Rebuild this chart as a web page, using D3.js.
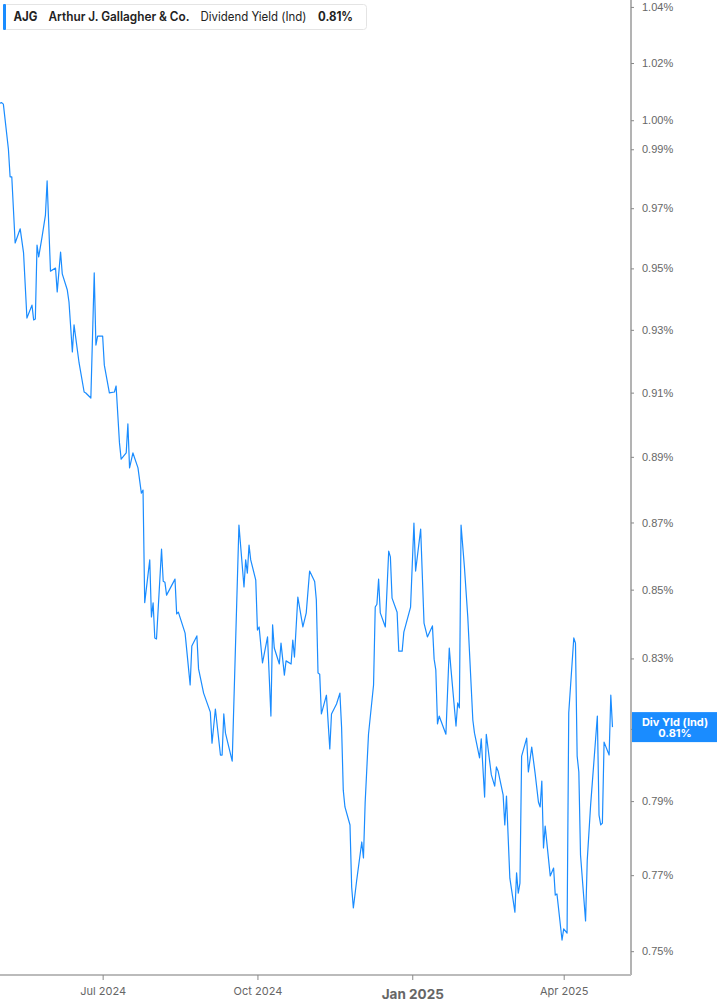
<!DOCTYPE html>
<html>
<head>
<meta charset="utf-8">
<script src="https://cdn.jsdelivr.net/npm/d3@7"></script>
<style>
  body { margin: 0; background: white; }
  .svg-wrap { width: 717px; height: 1005px; }
</style>
</head>
<body>
<div class="svg-wrap"></div>
<script>
// AJG dividend yield (Ind), in percent
const dates = [
  "2024-05-01","2024-05-02","2024-05-03","2024-05-06","2024-05-07","2024-05-08","2024-05-10","2024-05-13",
  "2024-05-15","2024-05-17","2024-05-20","2024-05-21","2024-05-22","2024-05-23","2024-05-24","2024-05-26",
  "2024-05-28","2024-05-29","2024-05-31","2024-06-03","2024-06-04","2024-06-06","2024-06-07","2024-06-10",
  "2024-06-11","2024-06-13","2024-06-14","2024-06-17","2024-06-20","2024-06-21","2024-06-24","2024-06-26",
  "2024-06-27","2024-06-28","2024-07-01","2024-07-02","2024-07-05","2024-07-08","2024-07-09","2024-07-11",
  "2024-07-12","2024-07-15","2024-07-16","2024-07-17","2024-07-19","2024-07-22","2024-07-24","2024-07-25",
  "2024-07-26","2024-07-29","2024-07-30","2024-07-31","2024-08-01","2024-08-02","2024-08-05","2024-08-06",
  "2024-08-07","2024-08-08","2024-08-13","2024-08-14","2024-08-15","2024-08-19","2024-08-22","2024-08-23",
  "2024-08-26","2024-08-27","2024-08-30","2024-09-03","2024-09-04","2024-09-06","2024-09-09","2024-09-10",
  "2024-09-11","2024-09-12","2024-09-16","2024-09-20","2024-09-23","2024-09-24","2024-09-25","2024-09-26",
  "2024-09-27","2024-09-30","2024-10-01","2024-10-02","2024-10-04","2024-10-07","2024-10-09","2024-10-10",
  "2024-10-11","2024-10-14","2024-10-15","2024-10-17","2024-10-18","2024-10-21","2024-10-22","2024-10-23",
  "2024-10-25","2024-10-28","2024-10-30","2024-11-01","2024-11-04","2024-11-05","2024-11-06","2024-11-07",
  "2024-11-08","2024-11-11","2024-11-13","2024-11-14","2024-11-17","2024-11-19","2024-11-20","2024-11-21",
  "2024-11-22","2024-11-25","2024-11-26","2024-11-27","2024-11-29","2024-12-02","2024-12-03","2024-12-04",
  "2024-12-06","2024-12-09","2024-12-10","2024-12-11","2024-12-12","2024-12-13","2024-12-16","2024-12-18",
  "2024-12-19","2024-12-20","2024-12-23","2024-12-24","2024-12-26","2024-12-27","2024-12-31","2025-01-02",
  "2025-01-03","2025-01-06","2025-01-08","2025-01-10","2025-01-13","2025-01-14","2025-01-15","2025-01-16",
  "2025-01-17","2025-01-21","2025-01-23","2025-01-24","2025-01-27","2025-01-28","2025-01-29","2025-01-30",
  "2025-02-01","2025-02-03","2025-02-06","2025-02-07","2025-02-10","2025-02-11","2025-02-13","2025-02-14",
  "2025-02-17","2025-02-19","2025-02-20","2025-02-21","2025-02-24","2025-02-25","2025-02-26","2025-02-28",
  "2025-03-03","2025-03-04","2025-03-05","2025-03-06","2025-03-07","2025-03-10","2025-03-11","2025-03-13",
  "2025-03-15","2025-03-17","2025-03-18","2025-03-19","2025-03-20","2025-03-21","2025-03-24","2025-03-26",
  "2025-03-27","2025-03-28","2025-03-31","2025-04-01","2025-04-03","2025-04-04","2025-04-07","2025-04-08",
  "2025-04-09","2025-04-10","2025-04-11","2025-04-14","2025-04-15","2025-04-17","2025-04-21","2025-04-22",
  "2025-04-23","2025-04-24","2025-04-25","2025-04-28","2025-04-29","2025-04-30"
];

const yields = [
  1.0059,1.0061,1.0056,0.9900,0.9806,0.9806,0.9584,0.9631,
  0.9551,0.9338,0.9380,0.9332,0.9335,0.9577,0.9538,0.9604,
  0.9677,0.9792,0.9491,0.9501,0.9423,0.9554,0.9482,0.9429,
  0.9390,0.9229,0.9316,0.9194,0.9102,0.9099,0.9083,0.9485,
  0.9251,0.9280,0.9280,0.9187,0.9099,0.9102,0.9121,0.8943,
  0.8893,0.8912,0.9002,0.8866,0.8912,0.8866,0.8789,0.8798,
  0.8462,0.8588,0.8420,0.8461,0.8359,0.8356,0.8620,0.8525,
  0.8522,0.8484,0.8531,0.8429,0.8434,0.8373,0.8224,0.8336,
  0.8365,0.8270,0.8201,0.8147,0.8060,0.8156,0.8027,0.8027,
  0.8142,0.8088,0.8010,0.8692,0.8508,0.8588,0.8549,0.8632,
  0.8588,0.8528,0.8382,0.8391,0.8287,0.8362,0.8136,0.8397,
  0.8330,0.8284,0.8344,0.8252,0.8293,0.8284,0.8353,0.8304,
  0.8478,0.8391,0.8432,0.8555,0.8524,0.8470,0.8258,0.8255,
  0.8142,0.8195,0.8044,0.8142,0.8170,0.8201,0.8105,0.7930,
  0.7884,0.7835,0.7668,0.7613,0.7687,0.7789,0.7746,0.7895,
  0.8085,0.8224,0.8449,0.8457,0.8531,0.8432,0.8391,0.8614,
  0.8597,0.8475,0.8434,0.8321,0.8321,0.8376,0.8449,0.8698,
  0.8555,0.8680,0.8402,0.8362,0.8394,0.8298,0.8267,0.8114,
  0.8136,0.8085,0.8330,0.8270,0.8108,0.8173,0.8159,0.8692,
  0.8567,0.8420,0.8125,0.8088,0.8019,0.8072,0.7911,0.8085,
  0.7972,0.7941,0.7994,0.7983,0.7917,0.7835,0.7914,0.7692,
  0.7602,0.7706,0.7652,0.7679,0.8024,0.8074,0.7980,0.8049,
  0.7977,0.7897,0.7884,0.7955,0.7773,0.7832,0.7698,0.7719,
  0.7647,0.7650,0.7529,0.7558,0.7547,0.8145,0.8359,0.8344,
  0.8024,0.7980,0.7754,0.7579,0.7740,0.7889,0.8136,0.7862,
  0.7835,0.7840,0.8063,0.8027,0.8195,0.8105
];

const yTicks = [0.75,0.77,0.79,0.81,0.83,0.85,0.87,0.89,0.91,0.93,0.95,0.97,0.99,1.00,1.02,1.04];
const xTicks = ["2024-07-01","2024-10-01","2025-01-01","2025-04-01"];
const xTickLabels = ["Jul 2024","Oct 2024","Jan 2025","Apr 2025"];

const legendParts = ["AJG","Arthur J. Gallagher & Co.","Dividend Yield (Ind)","0.81%"];
const lastLabel = ["Div Yld (Ind)","0.81%"];

const width = 631;
const height = 975;
const blue = "#1a8cff";
const parseDate = d3.timeParse("%Y-%m-%d");

let svgContainer = d3
  .select(".svg-wrap")
  .append("svg")
  .attr("width", 717)
  .attr("height", 1005)
  .style("background-color", "white")
  .style("font-family", "Inter, 'Liberation Sans', sans-serif");

let scaleX = d3.scaleTime()
  .domain([parseDate("2024-05-01"), parseDate("2025-05-11")])
  .range([0, width]);

let scaleY = d3.scaleLog()
  .domain([0.7441, 1.0425])
  .range([height - 1, 0]);

drawAxes();
drawLine();
drawLegend();
drawLastBadge();

function drawAxes(){
    let yAxis = d3.axisRight(scaleY)
      .tickValues(yTicks)
      .tickSize(3)
      .tickPadding(8)
      .tickFormat(d => d.toFixed(2) + "%");

    let gy = svgContainer.append("g")
      .attr("id", "y-axis")
      .attr("transform", `translate(${width},0)`)
      .call(yAxis);
    gy.select(".domain").attr("stroke", "#9a9a9a").attr("stroke-width", 1.5)
      .attr("d", `M0,0V${height}`);
    gy.selectAll(".tick line").attr("stroke", "#888");
    gy.selectAll(".tick text")
      .attr("fill", "#666")
      .style("font-family", "'Liberation Sans', Arial, sans-serif")
      .style("font-size", "11px");

    let xAxis = d3.axisBottom(scaleX)
      .tickValues(xTicks.map(parseDate))
      .tickSize(5)
      .tickPadding(7)
      .tickFormat((d, i) => xTickLabels[i]);

    let gx = svgContainer.append("g")
      .attr("id", "x-axis")
      .attr("transform", `translate(0,${height})`)
      .call(xAxis);
    gx.select(".domain").attr("stroke", "#bbb").attr("stroke-width", 2)
      .attr("d", `M0,0H${width}`);
    gx.selectAll(".tick line").attr("stroke", "#888");
    gx.selectAll(".tick text")
      .attr("fill", "#666")
      .style("font-size", "11px")
      .style("font-family", "Inter, sans-serif");
    gx.selectAll(".tick text")
      .filter((d, i) => xTickLabels[i] === "Jan 2025")
      .attr("dy", "0.9em")
      .style("font-size", "13.5px")
      .style("font-weight", "700");
}

function drawLine(){
    let points = dates.map((d, i) => [parseDate(d), yields[i]]);
    let line = d3.line()
      .x(d => scaleX(d[0]))
      .y(d => scaleY(d[1]));

    svgContainer.append("path")
      .datum(points)
      .attr("fill", "none")
      .attr("stroke", blue)
      .attr("stroke-width", 1.2)
      .attr("stroke-linejoin", "round")
      .attr("d", line);
}

function drawLegend(){
    let g = svgContainer.append("g").attr("id", "legend");
    g.append("rect")
      .attr("x", 3.5).attr("y", 4.5)
      .attr("width", 363).attr("height", 25)
      .attr("rx", 3)
      .attr("fill", "white")
      .attr("stroke", "#e4e4e4");
    g.append("rect")
      .attr("x", 3).attr("y", 4)
      .attr("width", 3).attr("height", 26)
      .attr("rx", 1)
      .attr("fill", blue);

    // start x and width of each part
    let xs = [13.5, 48.5, 200.5, 318];
    let ws = [24, 141, 106, 35];
    let weights = [700, 600, 400, 700];
    g.selectAll("text.leg")
      .data(legendParts)
      .enter()
      .append("text")
      .attr("class", "leg")
      .attr("x", (d, i) => xs[i])
      .attr("y", 21)
      .attr("textLength", (d, i) => ws[i])
      .attr("lengthAdjust", "spacingAndGlyphs")
      .attr("fill", "#222")
      .style("font-size", "12.5px")
      .style("font-weight", (d, i) => weights[i])
      .text(d => d);
}

function drawLastBadge(){
    let g = svgContainer.append("g").attr("id", "last-value");
    let cy = scaleY(yields[yields.length - 1]);
    g.append("rect")
      .attr("x", width + 1)
      .attr("y", cy - 15)
      .attr("width", 717 - width - 1)
      .attr("height", 30)
      .attr("fill", blue);
    g.selectAll("text")
      .data(lastLabel)
      .enter()
      .append("text")
      .attr("x", (width + 717) / 2 + 1)
      .attr("y", (d, i) => cy - 1.5 + i * 11.5)
      .attr("text-anchor", "middle")
      .attr("fill", "white")
      .style("font-size", "11px")
      .style("font-weight", 700)
      .text(d => d);
}
</script>
</body>
</html>
